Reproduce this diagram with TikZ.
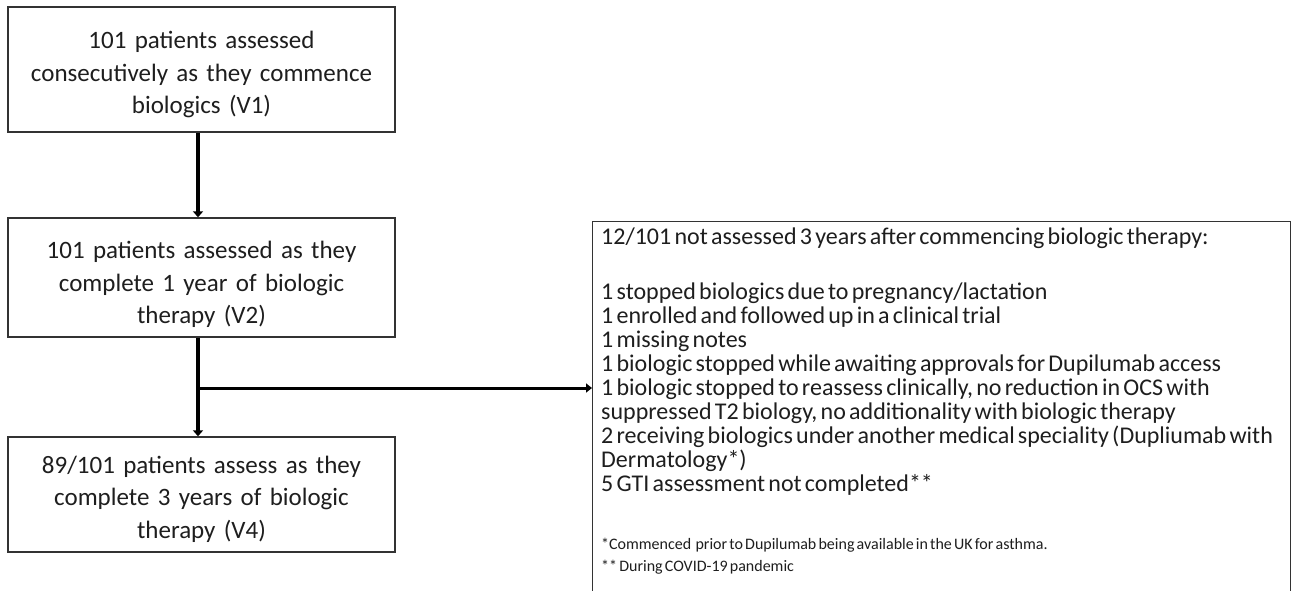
\documentclass[tikz,border=0pt]{standalone}
\usepackage{fontspec}
\setmainfont{Carlito}
\newfontfamily\sidefont[WordSpace=0.6]{Carlito}
\usetikzlibrary{arrows.meta}
\definecolor{ink}{HTML}{1E1E1E}
\definecolor{edge}{HTML}{333333}
\tikzset{
  flowbox/.style={draw=edge, line width=1.4pt, minimum width=387pt, text width=370pt, align=center, inner sep=0pt, text=ink,
    font=\fontsize{25}{32.5}\selectfont},
  mainline/.style={line width=4pt, -{Triangle[width=10pt,length=6pt]}},
  sideline/.style={line width=3pt, -{Triangle[width=9pt,length=6pt]}},
  sidetext/.style={anchor=north west, inner sep=0pt, align=left, text=ink, font=\sidefont\fontsize{24}{24}\selectfont},
  notetext/.style={anchor=north west, inner sep=0pt, align=left, text=ink, font=\sidefont\fontsize{16}{22}\selectfont}
}
\begin{document}
\begin{tikzpicture}[x=1pt,y=-1pt]
\useasboundingbox (0,0) rectangle (1292,591);
\clip (0,0) rectangle (1292,591);
\fill[white] (0,0) rectangle (1292,591);
\node[flowbox, minimum height=125pt] (b1) at (201.5,69.5) {\rule{0pt}{28pt}101 patients assessed\\consecutively as they commence\\biologics (V1)};
\node[flowbox, minimum height=119pt] (b2) at (201.5,277.5) {\rule{0pt}{32pt}101 patients assessed as they\\complete 1 year of biologic\\therapy (V2)};
\node[flowbox, minimum height=115pt] (b3) at (201.5,494.5) {\rule{0pt}{27pt}89/101 patients assess as they\\complete 3 years of biologic\\therapy (V4)};
\node[draw=edge, line width=1.4pt, anchor=north west, minimum width=698pt, minimum height=420pt, inner sep=0pt] (rb) at (592,221) {};
\node[sidetext] (rt) at (601,228) {12/101 not assessed 3 years after commencing biologic therapy:\\[31pt]
1 stopped biologics due to pregnancy/lactation\\
1 enrolled and followed up in a clinical trial\\
1 missing notes\\
1 biologic stopped while awaiting approvals for Dupilumab access\\
1 biologic stopped to reassess clinically, no reduction in OCS with\\
suppressed T2 biology, no additionality with biologic therapy\\
2 receiving biologics under another medical speciality (Dupliumab with\\
Dermatology*)\\
5 GTI assessment not completed**};
\node[notetext] (nt) at (601,538) {*Commenced\ \ prior to Dupilumab being available in the UK for asthma.\\
** During COVID-19 pandemic};
\coordinate (j) at (198,388);
\draw[mainline] ([xshift=-3.5pt]b1.south) -- ([xshift=-3.5pt]b2.north);
\draw[mainline] ([xshift=-3.5pt]b2.south) -- ([xshift=-3.5pt]b3.north);
\draw[sideline] ([xshift=1.5pt]j) -- (j -| rb.west);
\end{tikzpicture}
\end{document}
